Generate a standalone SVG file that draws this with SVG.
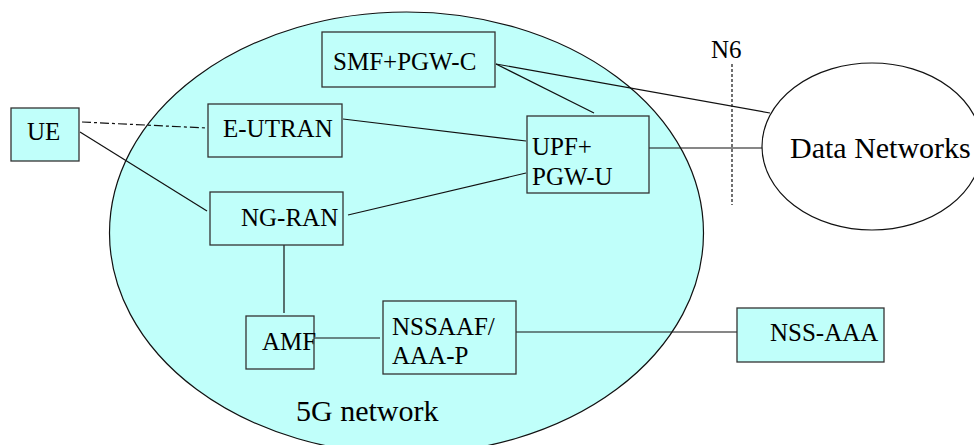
<svg xmlns="http://www.w3.org/2000/svg" width="974" height="445" viewBox="0 0 974 445">
<style>
.box{fill:#c0fffa;stroke:#333;stroke-width:1.3}
text{font-family:'Liberation Serif','DejaVu Serif',serif;font-size:25px;fill:#000}
.big{font-size:30px}
.c{stroke:#111;stroke-width:1.2;fill:none}
</style>
<rect width="974" height="445" fill="#fff"/>
<g id="net5g">
<ellipse cx="406.5" cy="233" rx="297" ry="221" fill="#c0fffa" stroke="#111" stroke-width="1.2"/>
<text class="big" x="296" y="421" font-family="Liberation Serif, serif">5G network</text>
</g>
<g id="datanetworks">
<ellipse cx="872" cy="146.5" rx="110" ry="83.5" fill="#fff" stroke="#111" stroke-width="1.2"/>
<text class="big" x="790" y="158" font-family="Liberation Serif, serif">Data Networks</text>
</g>
<g id="connectors">
<line class="c" x1="82" y1="122" x2="207" y2="128" stroke-width="2" stroke-dasharray="9 3 3 3"/>
<line class="c" x1="80" y1="132" x2="207" y2="211"/>
<line class="c" x1="343" y1="119" x2="526" y2="141"/>
<line class="c" x1="348" y1="215" x2="526" y2="173"/>
<line class="c" x1="496" y1="64" x2="594" y2="113"/>
<line class="c" x1="496" y1="64" x2="770" y2="113"/>
<line class="c" x1="649" y1="148" x2="762" y2="148"/>
<line class="c" x1="284" y1="245" x2="284" y2="313"/>
<line class="c" x1="313" y1="338" x2="380" y2="338"/>
<line class="c" x1="516" y1="332" x2="737" y2="332"/>
<line class="c" x1="732" y1="64" x2="732" y2="205" stroke-dasharray="3 2"/>
</g>
<g id="n6"><text x="711" y="58" font-family="Liberation Serif, serif">N6</text></g>
<g id="smf"><rect class="box" x="322" y="32" width="173" height="55"/><text x="333" y="70" font-family="Liberation Serif, serif">SMF+PGW-C</text></g>
<g id="eutran"><rect class="box" x="208" y="104" width="134" height="53"/><text x="223" y="137" font-family="Liberation Serif, serif">E-UTRAN</text></g>
<g id="ue"><rect class="box" x="11" y="108" width="68" height="53"/><text x="27" y="140" font-family="Liberation Serif, serif">UE</text></g>
<g id="ngran"><rect class="box" x="210" y="192" width="133" height="53"/><text x="241" y="226" font-family="Liberation Serif, serif">NG-RAN</text></g>
<g id="upf"><rect class="box" x="527" y="116" width="122" height="77"/><text x="532" y="155" font-family="Liberation Serif, serif">UPF+</text><text x="532" y="185" font-family="Liberation Serif, serif">PGW-U</text></g>
<g id="amf"><rect class="box" x="246" y="316" width="68" height="53"/><text x="262" y="350" font-family="Liberation Serif, serif">AMF</text></g>
<g id="nssaaf"><rect class="box" x="383" y="301" width="133" height="73"/><text x="392" y="335" font-family="Liberation Serif, serif">NSSAAF/</text><text x="392" y="364" font-family="Liberation Serif, serif">AAA-P</text></g>
<g id="nssaaa"><rect class="box" x="737" y="308" width="147" height="54"/><text x="770" y="341" font-family="Liberation Serif, serif">NSS-AAA</text></g>
</svg>
